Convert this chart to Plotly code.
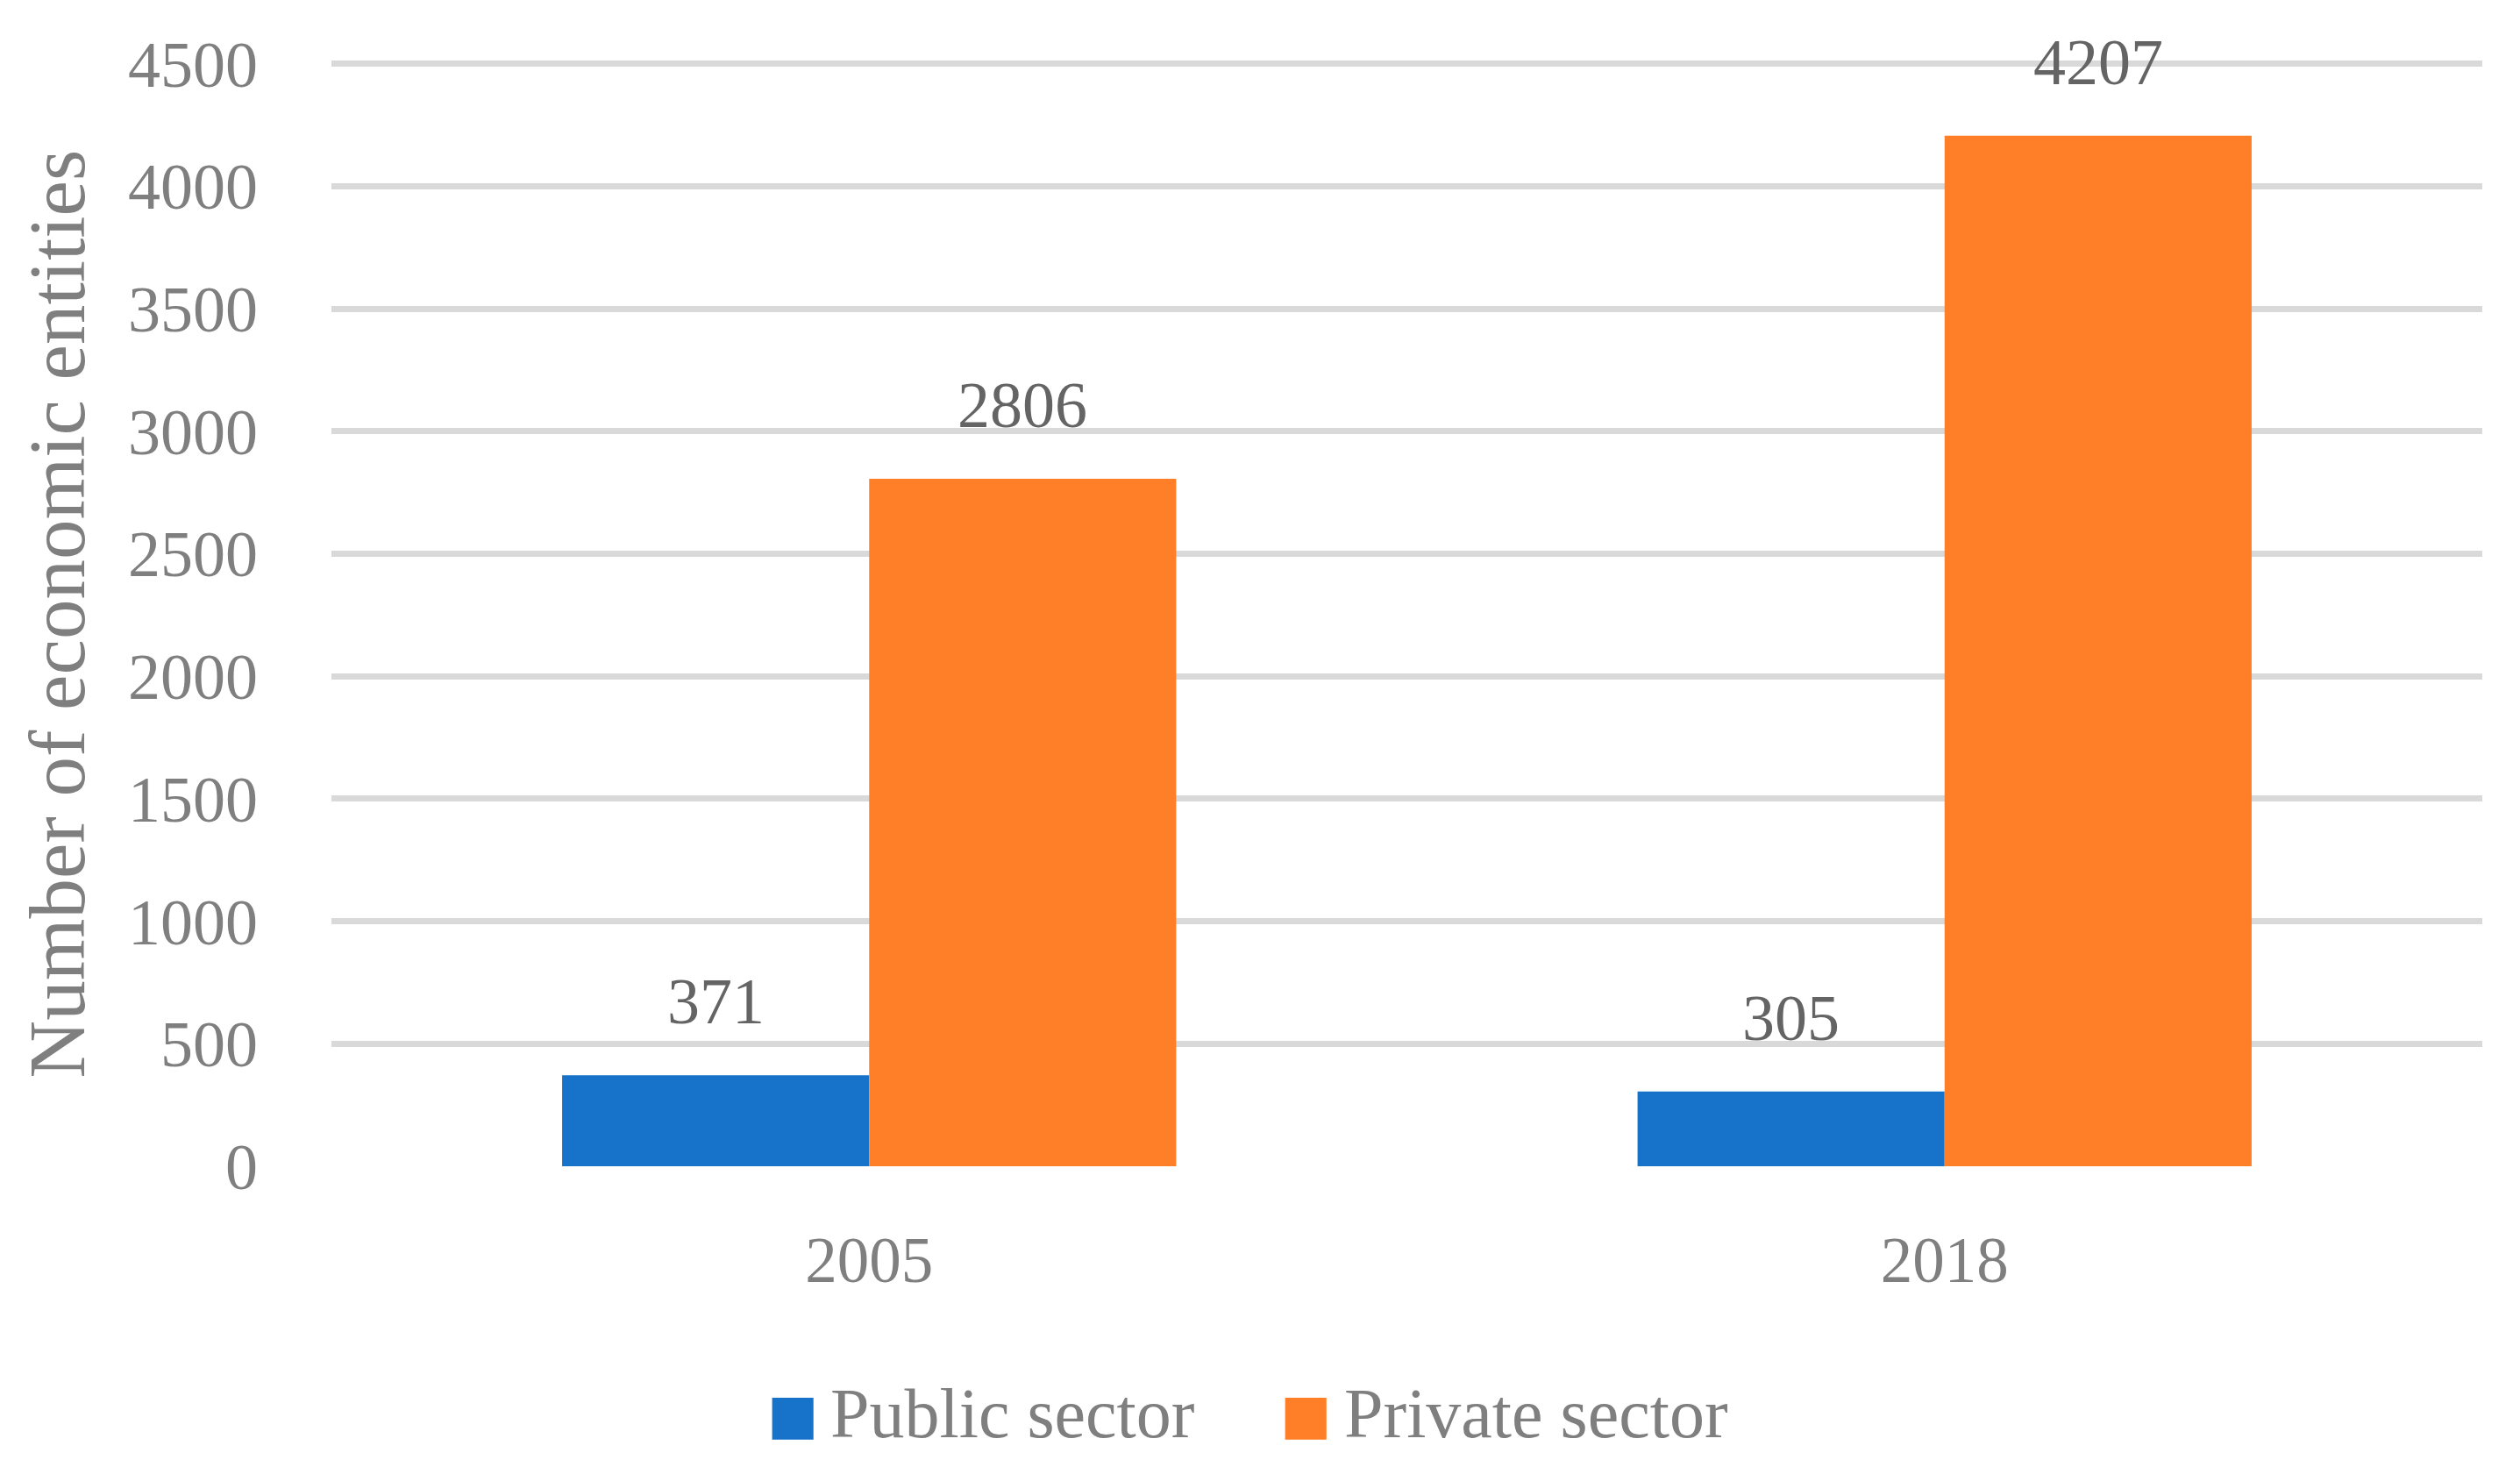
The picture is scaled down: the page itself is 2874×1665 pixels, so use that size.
import plotly.graph_objects as go

# ---- data ----
categories = ["2005", "2018"]
series_names = ["Public sector", "Private sector"]
public_values = [371, 305]
private_values = [2806, 4207]
y_tick_values = [0, 500, 1000, 1500, 2000, 2500, 3000, 3500, 4000, 4500]

# ---- style ----
colors = ["#1673c9", "#fe7f27"]
FONT = "Liberation Serif"
W, H = 2874, 1665
M_L, M_R, M_T, M_B = 370, 51, 62, 343
BARGAP = 0.429

fig = go.Figure()
all_values = [public_values, private_values]
for name, vals, col in zip(series_names, all_values, colors):
    fig.add_trace(go.Bar(
        x=categories, y=vals, name=name,
        marker=dict(color=col, line=dict(width=0)),
        showlegend=False,
    ))

# data labels above bars (positioned via axis scale, shifted to each bar's centre)
plot_w = W - M_L - M_R
cat_w = plot_w / len(categories)
bar_w = cat_w * (1 - BARGAP) / len(series_names)
for i, vals in enumerate(all_values):
    shift = bar_w * (i - (len(series_names) - 1) / 2)
    for ci, v in enumerate(vals):
        fig.add_annotation(
            x=ci, y=v, xref="x", yref="y", text=str(v), showarrow=False,
            xshift=shift, yshift=41, yanchor="bottom",
            font=dict(family=FONT, size=74, color="#646464"),
        )

# manual legend with large square swatches
legend_sq = [(0.2049, 0.2241), (0.4434, 0.4626)]
legend_tx = [0.2310, 0.4700]
for (x0, x1), tx, name, col in zip(legend_sq, legend_tx, series_names, colors):
    fig.add_shape(type="rect", xref="paper", yref="paper",
                  x0=x0, x1=x1, y0=-0.2475, y1=-0.2095,
                  fillcolor=col, line=dict(width=0))
    fig.add_annotation(x=tx, y=-0.2235, xref="paper", yref="paper",
                       text=name, showarrow=False, xanchor="left", yanchor="middle",
                       font=dict(family=FONT, size=80, color="#7f7f7f"))

fig.update_layout(
    width=W, height=H,
    margin=dict(l=M_L, r=M_R, t=M_T, b=M_B, autoexpand=False),
    paper_bgcolor="white", plot_bgcolor="white",
    barmode="group", bargap=BARGAP, bargroupgap=0,
    font=dict(family=FONT, color="#7f7f7f"),
    showlegend=False,
)
fig.update_xaxes(
    type="category", range=[-0.5, len(categories) - 0.5],
    showgrid=False, zeroline=False, showline=False,
    ticks="", tickfont=dict(family=FONT, size=73, color="#7f7f7f"),
    ticklabelstandoff=58, automargin=False,
)
fig.update_yaxes(
    range=[0, 4510], tickvals=y_tick_values,
    showgrid=True, gridcolor="#d9d9d9", gridwidth=7,
    zeroline=False, showline=False, ticks="",
    tickfont=dict(family=FONT, size=74, color="#7f7f7f"),
    ticklabelstandoff=83, automargin=False,
    title=dict(text="Number of economic entities",
               font=dict(family=FONT, size=91, color="#7f7f7f"), standoff=19),
)

fig.write_html("out.html")
